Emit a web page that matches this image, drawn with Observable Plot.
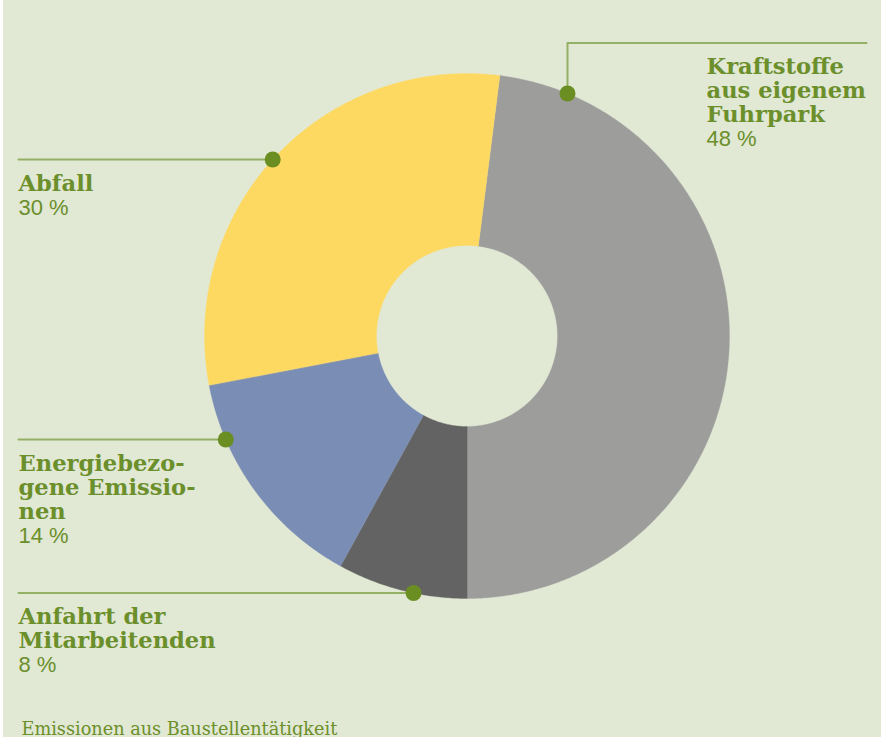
<!DOCTYPE html>
<html><head><meta charset="utf-8">
<script src="https://cdn.jsdelivr.net/npm/d3@7"></script>
<script src="https://cdn.jsdelivr.net/npm/@observablehq/plot@0.6"></script>
<style>
html,body{margin:0;padding:0;background:#fff;}
#wrap{position:relative;width:886px;height:737px;overflow:hidden;}
#bg{position:absolute;left:3px;top:0;width:878px;height:737px;background:#e1e8d4;}
#chart{position:absolute;left:0;top:0;}
</style></head><body>
<div id="wrap"><div id="bg"></div><div id="chart"></div></div>
<script>
// ---- data ----
const categories = ["Kraftstoffe aus eigenem Fuhrpark", "Anfahrt der Mitarbeitenden", "Energiebezogene Emissionen", "Abfall"];
const shares = [48, 8, 14, 30];
const sliceColors = ["#9d9d9c", "#636363", "#7a8db5", "#fed962"];
const labelLines = [["Kraftstoffe", "aus eigenem", "Fuhrpark"], ["Anfahrt der", "Mitarbeitenden"], ["Energiebezo-", "gene Emissio-", "nen"], ["Abfall"]];
const percentLabels = shares.map(v => `${v} %`);
const captionText = "Emissionen aus Baustellentätigkeit";

// ---- layout (pixels) ----
const W = 886, H = 737, cx = 466.5, cy = 335.5, R = 262.5, inner = 90.5 / 262.5;
const startDeg = 180 - shares[0] * 3.6;
const callouts = [
  {textX: 706, lineY: 42.5, lineEndX: 866, dropX: 567},
  {textX: 18, lineY: 592.5},
  {textX: 18, lineY: 439},
  {textX: 18, lineY: 159}
];
const toX = px => (px - cx) / R;
const toY = py => (cy - py) / R;
const green = "#6b8f2a", lineGreen = "#93b065", dotGreen = "#6b8e23";
const serif = "DejaVu Serif";
const sans = "'Liberation Sans', Arial, sans-serif";

const polys = [];
let acc = startDeg;
shares.forEach((v, i) => {
  const a0 = acc, a1 = acc + v * 3.6; acc = a1;
  const n = Math.max(2, Math.ceil((a1 - a0) / 0.5));
  const outer = d3.range(n + 1).map(k => a0 + (a1 - a0) * k / n);
  outer.forEach(a => { const t = a * Math.PI / 180; polys.push({k: categories[i], c: sliceColors[i], x: Math.sin(t), y: Math.cos(t)}); });
  outer.slice().reverse().forEach(a => { const t = a * Math.PI / 180; polys.push({k: categories[i], c: sliceColors[i], x: inner * Math.sin(t), y: inner * Math.cos(t)}); });
});

const leaders = [], dots = [], names = [], pcts = [];
callouts.forEach((c, i) => {
  let dot;
  if (c.dropX != null) {
    dot = [c.dropX, cy - Math.sqrt(R * R - (c.dropX - cx) ** 2)];
    [[c.lineEndX, c.lineY], [c.dropX, c.lineY], dot].forEach(p => leaders.push({k: i, x: toX(p[0]), y: toY(p[1])}));
  } else {
    dot = [cx - Math.sqrt(R * R - (c.lineY - cy) ** 2), c.lineY];
    [[c.textX, c.lineY], dot].forEach(p => leaders.push({k: i, x: toX(p[0]), y: toY(p[1])}));
  }
  dots.push({x: toX(dot[0]), y: toY(dot[1])});
  labelLines[i].forEach((t, j) => names.push({t, x: toX(c.textX), y: toY(c.lineY + 31 + 24 * j)}));
  pcts.push({t: percentLabels[i], x: toX(c.textX), y: toY(c.lineY + 31 + 24 * labelLines[i].length)});
});

const chart = Plot.plot({
  width: W, height: H, margin: 0,
  x: {domain: [toX(0), toX(W)], axis: null},
  y: {domain: [toY(H), toY(0)], axis: null},
  color: {type: "identity"},
  style: {background: "transparent", overflow: "visible"},
  marks: [
    Plot.line(polys, {x: "x", y: "y", z: "k", fill: "c", stroke: "c", strokeWidth: 0.3, curve: "linear-closed"}),
    Plot.line(leaders, {x: "x", y: "y", z: "k", stroke: lineGreen, strokeWidth: 2}),
    Plot.dot(dots, {x: "x", y: "y", r: 8, fill: dotGreen}),
    Plot.text(names, {x: "x", y: "y", text: "t", textAnchor: "start", lineAnchor: "bottom", fontFamily: serif, fontWeight: "bold", fontSize: 22.6, fill: green}),
    Plot.text(pcts, {x: "x", y: "y", text: "t", textAnchor: "start", lineAnchor: "bottom", fontFamily: sans, fontSize: 22, fill: green}),
    Plot.text([captionText], {x: toX(21), y: toY(734), text: d => d, textAnchor: "start", lineAnchor: "bottom", fontFamily: serif, fontSize: 17.7, fill: green})
  ]
});
document.getElementById("chart").appendChild(chart);
</script>
</body></html>
